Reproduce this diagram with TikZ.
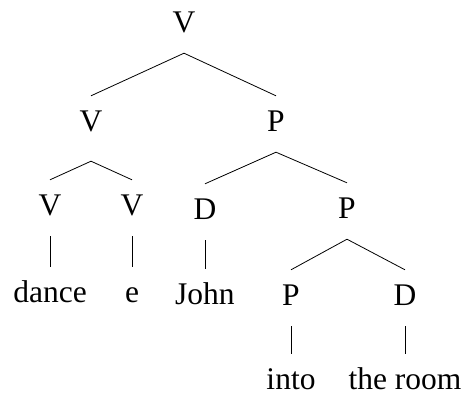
\documentclass[tikz,border=0pt]{standalone}
\usepackage{fontspec}
\setmainfont{Liberation Serif}

\begin{document}
\begin{tikzpicture}[x=1pt,y=-1pt,%
      branch/.style={draw=black,line width=0.8pt},%
      leaf/.style={inner ysep=2pt,text height=33pt,text depth=0pt},%
      every node/.style={anchor=base,inner xsep=0pt,inner ysep=14pt,%
        text height=21pt,text depth=7pt,%
        font=\fontsize{31.5}{36}\selectfont}%
      ]
      \useasboundingbox (0,0) rectangle (464,394);%
      %% create nodes
      \node (root) at (184,32) {V};%
      \node[text depth=16pt] (v1) at (91,131) {V};%
      \node (p1) at (276,131) {P};%
      \node (v2) at (50,215) {V};%
      \node (v3) at (132,215) {V};%
      \node (d1) at (205,219) {D};%
      \node (p2) at (347,218) {P};%
      \node (dance) at (50,302) {dance};%
      \node (e) at (132,302) {e};%
      \node (john) at (205,304) {John};%
      \node (p3) at (291,305) {P};%
      \node (d2) at (405,305) {D};%
      \node[leaf] (into) at (291,389) {into};%
      \node[leaf] (room) at (405,389) {the room};%
      %% draw branches
      \foreach \x/\y in
      {root/v1,root/p1,v1/v2,v1/v3,p1/d1,p1/p2,p2/p3,p2/d2} {%
        \draw[branch] (\x.south) -- (\y.north);%
      }%
      %% draw words
      \foreach \x/\y in
      {v2/dance,v3/e,d1/john,p3/into,d2/room} {%
        \draw[branch] (\x.south) -- (\y.north);%
      }%
    \end{tikzpicture}
\end{document}
